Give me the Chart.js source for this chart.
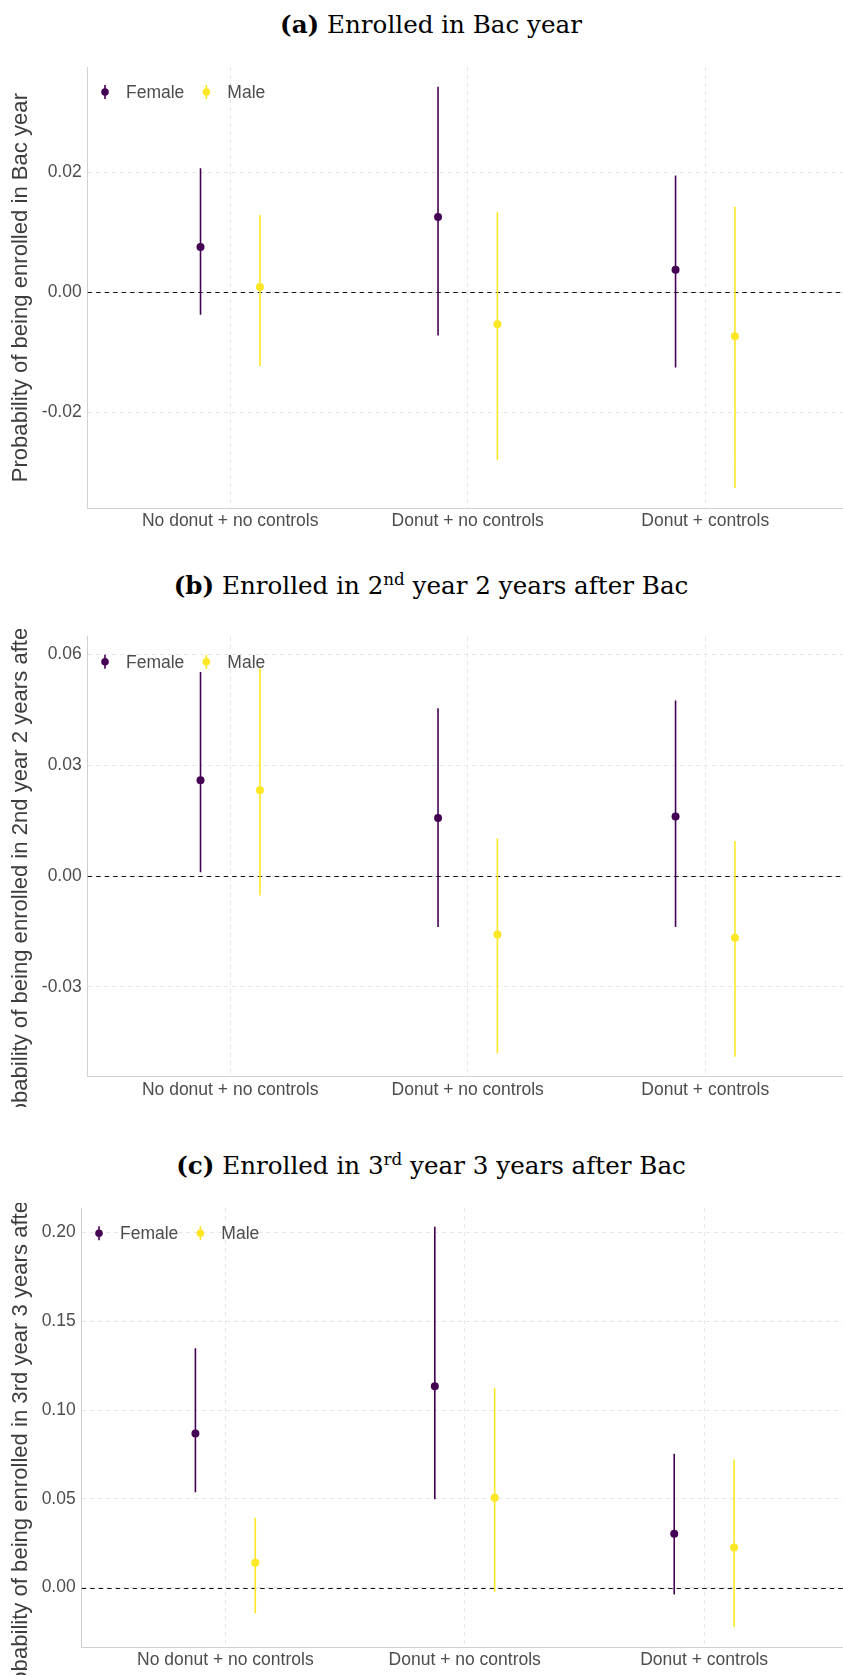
<!DOCTYPE html>
<html>
<head>
<meta charset="utf-8">
<script src="https://cdn.jsdelivr.net/npm/chart.js@4.4.1/dist/chart.umd.min.js"></script>
<style>
  html, body { margin: 0; padding: 0; background: #fff; }
  body { width: 843px; height: 1675px; position: relative; overflow: hidden; }
  .caption {
    position: absolute; left: 0; width: 862px; text-align: center;
    font-family: "DejaVu Serif", serif; font-size: 24.6px; line-height: 25px;
    color: #000; white-space: nowrap;
  }
  .caption sup { font-size: 68%; line-height: 0; vertical-align: 0.55em; }
  canvas { position: absolute; left: 0; }
</style>
</head>
<body>
<div class="caption" id="capA" style="top:12px"><b>(a)</b> Enrolled in Bac year</div>
<canvas id="panelA" width="843" height="478" style="top:60px"></canvas>
<div class="caption" id="capB" style="top:573px"><b>(b)</b> Enrolled in 2<sup>nd</sup> year 2 years after Bac</div>
<canvas id="panelB" width="843" height="478" style="top:629px"></canvas>
<div class="caption" id="capC" style="top:1153px"><b>(c)</b> Enrolled in 3<sup>rd</sup> year 3 years after Bac</div>
<canvas id="panelC" width="843" height="472" style="top:1203px"></canvas>
<script>
// Specifications compared on the horizontal axis
const categories = ['No donut + no controls', 'Donut + no controls', 'Donut + controls'];
const seriesNames = ['Female', 'Male'];
const seriesColors = ['#440154', '#FDE725'];

// (a) Enrolled in Bac year
const bacTickLabels = ['-0.02', '0.00', '0.02'];
const bacFemaleEst  = [0.0076, 0.0126, 0.0038];
const bacFemaleLow  = [-0.0037, -0.0072, -0.0125];
const bacFemaleHigh = [0.0207, 0.0343, 0.0195];
const bacMaleEst    = [0.0009, -0.0053, -0.0073];
const bacMaleLow    = [-0.0123, -0.0280, -0.0326];
const bacMaleHigh   = [0.0129, 0.0134, 0.0143];

// (b) Enrolled in 2nd year 2 years after Bac
const y2TickLabels = ['-0.03', '0.00', '0.03', '0.06'];
const y2FemaleEst  = [0.0259, 0.0157, 0.0161];
const y2FemaleLow  = [0.0010, -0.0138, -0.0138];
const y2FemaleHigh = [0.0552, 0.0454, 0.0475];
const y2MaleEst    = [0.0232, -0.0158, -0.0167];
const y2MaleLow    = [-0.0053, -0.0479, -0.0489];
const y2MaleHigh   = [0.0562, 0.0102, 0.0095];

// (c) Enrolled in 3rd year 3 years after Bac
const y3TickLabels = ['0.00', '0.05', '0.10', '0.15', '0.20'];
const y3FemaleEst  = [0.0868, 0.1134, 0.0303];
const y3FemaleLow  = [0.0537, 0.0497, -0.0039];
const y3FemaleHigh = [0.1348, 0.2033, 0.0754];
const y3MaleEst    = [0.0139, 0.0506, 0.0226];
const y3MaleLow    = [-0.0145, -0.0024, -0.0223];
const y3MaleHigh   = [0.0393, 0.1124, 0.0722];

const dodge = [-0.125, 0.125];
const sansFamily = '"Liberation Sans", Arial, sans-serif';

// Vertical interval segments, one per category, separated by gaps
function rangeSegments(low, high, shift) {
  const pts = [];
  categories.forEach((c, i) => {
    const x = i + 1 + shift;
    pts.push({ x: x, y: low[i] }, { x: x, y: high[i] }, { x: x, y: null });
  });
  return pts;
}
function estimatePoints(est, shift) {
  return categories.map((c, i) => ({ x: i + 1 + shift, y: est[i] }));
}

// Dashed reference line at zero
const zeroLine = {
  id: 'zeroLine',
  beforeDatasetsDraw(chart) {
    const { ctx, chartArea, scales } = chart;
    const y = Math.round(scales.y.getPixelForValue(0)) + 0.5;
    ctx.save();
    ctx.strokeStyle = '#111';
    ctx.lineWidth = 1.2;
    ctx.setLineDash([4.5, 4]);
    ctx.beginPath();
    ctx.moveTo(chartArea.left, y);
    ctx.lineTo(chartArea.right, y);
    ctx.stroke();
    ctx.restore();
  }
};

// Legend placed inside the top-left corner of the plot
const insideLegend = {
  id: 'insideLegend',
  afterDatasetsDraw(chart) {
    const { ctx, chartArea } = chart;
    const y = chartArea.top + 25;
    let x = chartArea.left + 17.3;
    ctx.save();
    ctx.font = '17.5px ' + sansFamily;
    ctx.textBaseline = 'middle';
    ctx.textAlign = 'left';
    seriesNames.forEach((name, k) => {
      ctx.strokeStyle = seriesColors[k];
      ctx.lineWidth = 1.6;
      ctx.beginPath();
      ctx.moveTo(x, y - 7);
      ctx.lineTo(x, y + 7);
      ctx.stroke();
      ctx.fillStyle = seriesColors[k];
      ctx.beginPath();
      ctx.arc(x, y, 3.8, 0, Math.PI * 2);
      ctx.fill();
      ctx.fillStyle = '#4d4d4d';
      ctx.fillText(name, x + 21, y + 1);
      x += 21 + ctx.measureText(name).width + 22;
    });
    ctx.restore();
  }
};

function buildPanel(canvasId, spec, box) {
  const tickValues = spec.ticks.map(Number);
  const series = [
    { est: spec.femaleEst, low: spec.femaleLow, high: spec.femaleHigh },
    { est: spec.maleEst, low: spec.maleLow, high: spec.maleHigh }
  ];
  const datasets = [];
  series.forEach((s, k) => {
    datasets.push({
      label: seriesNames[k],
      data: estimatePoints(s.est, dodge[k]),
      backgroundColor: seriesColors[k],
      borderWidth: 0,
      pointRadius: 4,
      pointHoverRadius: 4,
      order: 0
    });
  });
  series.forEach((s, k) => {
    datasets.push({
      label: seriesNames[k] + ' interval',
      data: rangeSegments(s.low, s.high, dodge[k]),
      showLine: true,
      spanGaps: false,
      borderColor: seriesColors[k],
      borderWidth: 1.6,
      pointRadius: 0,
      pointHoverRadius: 0,
      order: 1
    });
  });

  return new Chart(document.getElementById(canvasId), {
    type: 'scatter',
    data: { datasets: datasets },
    plugins: [zeroLine, insideLegend],
    options: {
      responsive: false,
      animation: false,
      events: [],
      devicePixelRatio: 1,
      layout: { autoPadding: false, padding: { top: box.top, left: 0, right: 0, bottom: 0 } },
      plugins: { legend: { display: false }, tooltip: { enabled: false } },
      scales: {
        x: {
          type: 'linear',
          min: 0.4,
          max: 3.58,
          afterBuildTicks: (s) => { s.ticks = categories.map((c, i) => ({ value: i + 1 })); },
          afterFit: (s) => { s.height = box.xAxis; s.paddingLeft = 0; s.paddingRight = 0; },
          ticks: {
            autoSkip: false, maxRotation: 0, minRotation: 0, padding: 2.5,
            color: '#4d4d4d', font: { family: sansFamily, size: 17.5 },
            callback: (v, i) => categories[i]
          },
          grid: { color: '#e6e6e6', lineWidth: 1, drawTicks: false },
          border: { display: true, color: '#d0d0d0', width: 1, dash: [4, 4] }
        },
        y: {
          type: 'linear',
          min: spec.min,
          max: spec.max,
          afterBuildTicks: (s) => { s.ticks = tickValues.map(v => ({ value: v })); },
          afterFit: (s) => { s.width = box.yAxis; s.paddingTop = 0; s.paddingBottom = 0; },
          ticks: {
            padding: 6, color: '#4d4d4d', font: { family: sansFamily, size: 17.5 },
            callback: (v, i) => spec.ticks[i]
          },
          grid: { color: '#e6e6e6', lineWidth: 1, drawTicks: false },
          border: { display: true, color: '#d0d0d0', width: 1, dash: [4, 4] },
          title: {
            display: true, text: spec.title, color: '#3d3d3d',
            font: { family: sansFamily, size: 22.1 },
            padding: { top: 8, bottom: 0 }
          }
        }
      }
    }
  });
}

buildPanel('panelA', {
  title: 'Probability of being enrolled in Bac year',
  ticks: bacTickLabels, min: -0.036, max: 0.0376,
  femaleEst: bacFemaleEst, femaleLow: bacFemaleLow, femaleHigh: bacFemaleHigh,
  maleEst: bacMaleEst, maleLow: bacMaleLow, maleHigh: bacMaleHigh
}, { top: 7, yAxis: 87.7, xAxis: 29.7 });

buildPanel('panelB', {
  title: 'Probability of being enrolled in 2nd year 2 years after Bac',
  ticks: y2TickLabels, min: -0.0543, max: 0.0647,
  femaleEst: y2FemaleEst, femaleLow: y2FemaleLow, femaleHigh: y2FemaleHigh,
  maleEst: y2MaleEst, maleLow: y2MaleLow, maleHigh: y2MaleHigh
}, { top: 7.8, yAxis: 87.7, xAxis: 30.2 });

buildPanel('panelC', {
  title: 'Probability of being enrolled in 3rd year 3 years after Bac',
  ticks: y3TickLabels, min: -0.0335, max: 0.2137,
  femaleEst: y3FemaleEst, femaleLow: y3FemaleLow, femaleHigh: y3FemaleHigh,
  maleEst: y3MaleEst, maleLow: y3MaleLow, maleHigh: y3MaleHigh
}, { top: 5.2, yAxis: 81.7, xAxis: 28 });
</script>
</body>
</html>
